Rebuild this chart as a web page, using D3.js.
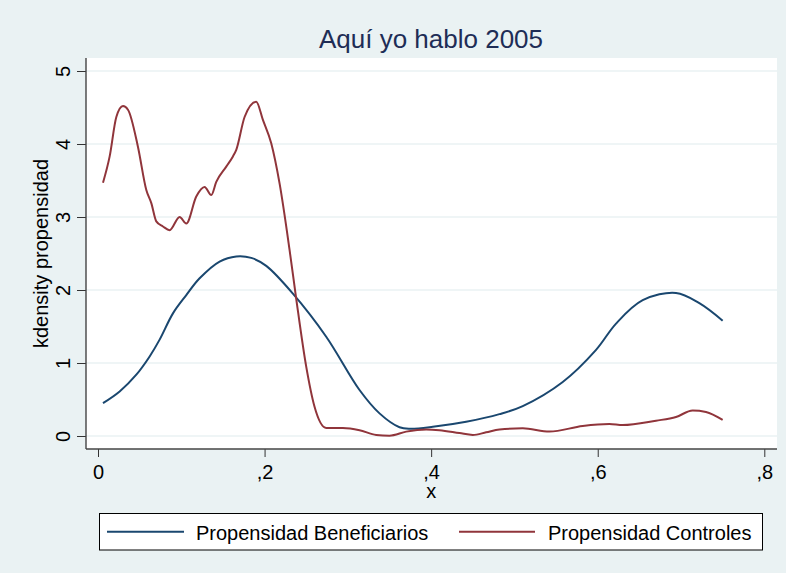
<!DOCTYPE html>
<html>
<head>
<meta charset="utf-8">
<script src="https://cdn.jsdelivr.net/npm/d3@7"></script>
<style>
  body { margin: 0; background: #eaf2f3; }
  svg { display: block; font-family: Arial, "Liberation Sans", sans-serif; }
</style>
</head>
<body>
<div id="chart"></div>
<script>
// kernel density, beneficiaries (x, density)
var benef_x = [0.006, 0.026, 0.046, 0.062, 0.074, 0.090, 0.106, 0.122, 0.146, 0.166, 0.184, 0.202, 0.234, 0.274, 0.314, 0.338, 0.362, 0.375, 0.402, 0.442, 0.482, 0.510, 0.558, 0.598, 0.622, 0.654, 0.694, 0.722, 0.750];
var benef_y = [0.45, 0.61, 0.84, 1.09, 1.32, 1.68, 1.93, 2.16, 2.39, 2.46, 2.44, 2.33, 1.95, 1.36, 0.63, 0.31, 0.12, 0.10, 0.127, 0.196, 0.30, 0.41, 0.74, 1.18, 1.54, 1.86, 1.96, 1.82, 1.58];

// kernel density, controls
var ctrl_x = [0.006, 0.014, 0.022, 0.030, 0.036, 0.048, 0.058, 0.064, 0.070, 0.078, 0.086, 0.098, 0.106, 0.118, 0.128, 0.136, 0.142, 0.154, 0.162, 0.166, 0.176, 0.190, 0.198, 0.208, 0.218, 0.230, 0.238, 0.250, 0.260, 0.274, 0.294, 0.314, 0.334, 0.350, 0.370, 0.394, 0.410, 0.434, 0.450, 0.466, 0.482, 0.510, 0.542, 0.582, 0.614, 0.630, 0.670, 0.694, 0.714, 0.730, 0.750];
var ctrl_y = [3.47, 3.83, 4.37, 4.52, 4.47, 3.96, 3.37, 3.19, 2.94, 2.87, 2.82, 3.00, 2.91, 3.28, 3.41, 3.30, 3.48, 3.69, 3.83, 3.92, 4.37, 4.58, 4.33, 4.01, 3.46, 2.55, 1.88, 0.95, 0.40, 0.11, 0.11, 0.08, 0.014, 0.005, 0.06, 0.09, 0.08, 0.04, 0.014, 0.05, 0.09, 0.105, 0.06, 0.137, 0.164, 0.15, 0.21, 0.26, 0.35, 0.33, 0.22];

var x_ticks = [0, 0.2, 0.4, 0.6, 0.8];
var y_ticks = [0, 1, 2, 3, 4, 5];
var series_names = ['Propensidad Beneficiarios', 'Propensidad Controles'];
var series_colors = ['#1a476f', '#90353b'];

var width  = 786;
var height = 573;
var plot = { left: 86, right: 777, top: 58, bottom: 449 };

var x_scale = d3.scaleLinear().domain([0, 0.8]).range([98, 764.3]);
var y_scale = d3.scaleLinear().domain([0, 5]).range([436, 71]);

var svg = d3.select('#chart')
  .append('svg')
  .attr('width', width)
  .attr('height', height);

svg.append('rect')
  .attr('width', width).attr('height', height)
  .attr('fill', '#eaf2f3');

// plot region
svg.append('rect')
  .attr('x', plot.left).attr('y', plot.top)
  .attr('width', plot.right - plot.left)
  .attr('height', plot.bottom - plot.top)
  .attr('fill', '#ffffff');

// gridlines
svg.append('g')
  .selectAll('line')
  .data(y_ticks)
  .enter().append('line')
  .attr('x1', plot.left).attr('x2', plot.right)
  .attr('y1', function(d) { return y_scale(d); })
  .attr('y2', function(d) { return y_scale(d); })
  .attr('stroke', '#eaf2f3')
  .attr('stroke-width', 1.6);

// tick label format: 0, ,2 ,4 ...
function comma_fmt(d) {
  if (d === 0) return '0';
  return d3.format('.1f')(d).replace(/^0\./, ',');
}

// y axis
var y_axis = d3.axisLeft(y_scale)
  .tickValues(y_ticks)
  .tickSize(9)
  .tickSizeOuter(0)
  .tickFormat(d3.format('d'));

var gy = svg.append('g')
  .attr('transform', 'translate(' + plot.left + ',0)')
  .call(y_axis);
gy.select('.domain').remove();
gy.selectAll('.tick line').attr('stroke', '#333');
gy.selectAll('.tick text')
  .attr('x', 0).attr('dy', 0)
  .attr('transform', 'translate(-16,0) rotate(-90)')
  .attr('text-anchor', 'middle')
  .attr('font-size', 20)
  .attr('font-family', 'Arial, "Liberation Sans", sans-serif')
  .attr('fill', '#000');

// x axis
var x_axis = d3.axisBottom(x_scale)
  .tickValues(x_ticks)
  .tickSize(8)
  .tickSizeOuter(0)
  .tickFormat(comma_fmt);

var gx = svg.append('g')
  .attr('transform', 'translate(0,' + plot.bottom + ')')
  .call(x_axis);
gx.select('.domain').remove();
gx.selectAll('.tick line').attr('stroke', '#333');
gx.selectAll('.tick text')
  .attr('y', 30).attr('dy', 0)
  .attr('font-size', 20)
  .attr('font-family', 'Arial, "Liberation Sans", sans-serif')
  .attr('fill', '#000');

// axis lines
svg.append('line')
  .attr('x1', plot.left).attr('x2', plot.left)
  .attr('y1', plot.top).attr('y2', plot.bottom)
  .attr('stroke', '#444').attr('stroke-width', 1.4);
svg.append('line')
  .attr('x1', plot.left).attr('x2', plot.right)
  .attr('y1', plot.bottom).attr('y2', plot.bottom)
  .attr('stroke', '#444').attr('stroke-width', 1.4);

// curves: smooth for beneficiaries, rougher for controls
var curves = [d3.curveCatmullRom.alpha(0.5), d3.curveMonotoneX];

var series = [d3.zip(benef_x, benef_y), d3.zip(ctrl_x, ctrl_y)];

svg.append('g')
  .selectAll('path')
  .data(series)
  .enter().append('path')
  .attr('d', function(d, i) {
    return d3.line()
      .x(function(p) { return x_scale(p[0]); })
      .y(function(p) { return y_scale(p[1]); })
      .curve(curves[i])(d);
  })
  .attr('fill', 'none')
  .attr('stroke', function(d, i) { return series_colors[i]; })
  .attr('stroke-width', 2)
  .attr('stroke-linejoin', 'round');

// titles
svg.append('text')
  .attr('x', 431).attr('y', 47.5)
  .attr('text-anchor', 'middle')
  .attr('font-size', 26)
  .attr('fill', '#1e2d56')
  .text('Aquí yo hablo 2005');

svg.append('text')
  .attr('x', x_scale(0.4)).attr('y', 498)
  .attr('text-anchor', 'middle')
  .attr('font-size', 20)
  .text('x');

svg.append('text')
  .attr('transform', 'translate(48,' + ((plot.top + plot.bottom) / 2) + ') rotate(-90)')
  .attr('text-anchor', 'middle')
  .attr('font-size', 20)
  .text('kdensity propensidad');

// legend
var legend = svg.append('g');
legend.append('rect')
  .attr('x', 99.5).attr('y', 513.5)
  .attr('width', 663).attr('height', 36.5)
  .attr('fill', '#fff')
  .attr('stroke', '#000').attr('stroke-width', 1);

var legend_pos = [{ x1: 107, x2: 184, tx: 196 }, { x1: 459, x2: 535, tx: 548 }];
var items = legend.selectAll('g.item')
  .data(series_names)
  .enter().append('g').attr('class', 'item');
items.append('line')
  .attr('x1', function(d, i) { return legend_pos[i].x1; })
  .attr('x2', function(d, i) { return legend_pos[i].x2; })
  .attr('y1', 531.7).attr('y2', 531.7)
  .attr('stroke', function(d, i) { return series_colors[i]; })
  .attr('stroke-width', 2);
items.append('text')
  .attr('x', function(d, i) { return legend_pos[i].tx; })
  .attr('y', 539.5)
  .attr('font-size', 20)
  .text(function(d) { return d; });
</script>
</body>
</html>
